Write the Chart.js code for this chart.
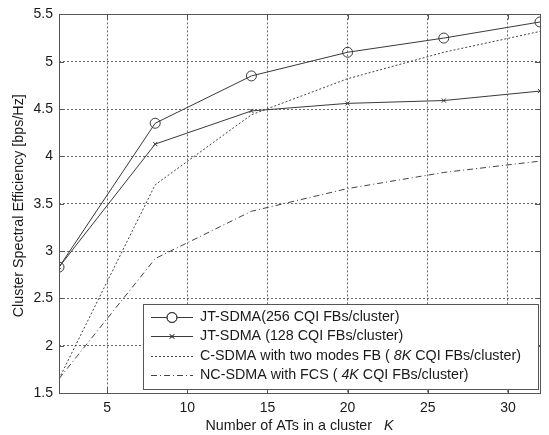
<!DOCTYPE html>
<html>
<head>
<meta charset="utf-8">
<script src="https://cdn.jsdelivr.net/npm/chart.js@4.4.1/dist/chart.umd.min.js"></script>
<style>
  html, body { margin: 0; padding: 0; background: #fff; }
  #wrap { width: 549px; height: 435px; }
</style>
</head>
<body>
<div id="wrap"><canvas id="chart" width="549" height="435"></canvas></div>
<script>
// ===== data =====
const kValues = [2, 8, 14, 20, 26, 32];
const jt256 = [2.83, 4.35, 4.85, 5.10, 5.25, 5.42];
const jt128 = [2.83, 4.13, 4.48, 4.56, 4.59, 4.69];
const cSdma = [1.65, 3.70, 4.44, 4.82, 5.10, 5.32];
const ncSdma = [1.65, 2.92, 3.42, 3.66, 3.83, 3.95];

const xTicks = [5, 10, 15, 20, 25, 30];
const yTicks = [1.5, 2, 2.5, 3, 3.5, 4, 4.5, 5, 5.5];

// legend text, split in [text, italic] parts
const legendLabels = [
  [["JT-SDMA(256 CQI FBs/cluster)", false]],
  [["JT-SDMA (128 CQI FBs/cluster)", false]],
  [["C-SDMA with two modes FB ( ", false], ["8K", true], [" CQI FBs/cluster)", false]],
  [["NC-SDMA with FCS ( ", false], ["4K", true], [" CQI FBs/cluster)", false]]
];
const xTitle = [["Number of ATs in a cluster", false], ["   ", false], ["K", true]];
const yTitle = "Cluster Spectral Efficiency [bps/Hz]";

const FONT = '"Liberation Sans", Arial, Helvetica, sans-serif';
const LINE = '#3a3a3a';
const TXT = 14.3;

function toPoints(ys) {
  return kValues.map((k, i) => ({ x: k, y: ys[i] }));
}

const datasets = [
  { data: toPoints(jt256), borderColor: LINE, borderWidth: 1, pointStyle: 'circle',
    pointRadius: 5, pointBorderColor: LINE, pointBackgroundColor: 'rgba(0,0,0,0)', pointBorderWidth: 1 },
  { data: toPoints(jt128), borderColor: LINE, borderWidth: 1, pointStyle: 'crossRot',
    pointRadius: 3, pointBorderColor: LINE, pointBorderWidth: 1 },
  { data: toPoints(cSdma), borderColor: '#444', borderWidth: 1, borderDash: [2, 2], pointRadius: 0 },
  { data: toPoints(ncSdma), borderColor: '#444', borderWidth: 1, borderDash: [6, 3, 1, 3], pointRadius: 0 }
];

function drawParts(ctx, parts, x, y, size) {
  parts.forEach(p => {
    ctx.font = (p[1] ? 'italic ' : '') + size + 'px ' + FONT;
    ctx.fillText(p[0], x, y);
    x += ctx.measureText(p[0]).width;
  });
}
function partsWidth(ctx, parts, size) {
  let w = 0;
  parts.forEach(p => {
    ctx.font = (p[1] ? 'italic ' : '') + size + 'px ' + FONT;
    w += ctx.measureText(p[0]).width;
  });
  return w;
}

// box, inner ticks, titles and legend in MATLAB style
const matlabFrame = {
  id: 'matlabFrame',
  afterDatasetsDraw(chart) {
    const ctx = chart.ctx;
    const a = chart.chartArea;
    const xs = chart.scales.x, ys = chart.scales.y;
    ctx.save();
    ctx.strokeStyle = '#555';
    ctx.lineWidth = 1;
    ctx.setLineDash([]);
    ctx.beginPath();
    xTicks.forEach(t => {
      const px = Math.round(xs.getPixelForValue(t)) + 0.5;
      ctx.moveTo(px, a.bottom); ctx.lineTo(px, a.bottom - 5);
      ctx.moveTo(px, a.top); ctx.lineTo(px, a.top + 5);
    });
    yTicks.forEach(t => {
      const py = Math.round(ys.getPixelForValue(t)) + 0.5;
      ctx.moveTo(a.left, py); ctx.lineTo(a.left + 5, py);
      ctx.moveTo(a.right, py); ctx.lineTo(a.right - 5, py);
    });
    ctx.stroke();
    ctx.strokeRect(Math.round(a.left) + 0.5, Math.round(a.top) + 0.5,
      Math.round(a.right - a.left), Math.round(a.bottom - a.top));

    // legend
    const lx = a.left + 84, ly = a.bottom - 89, lw = 395, lh = 85;
    ctx.fillStyle = '#fff';
    ctx.fillRect(lx, ly, lw, lh);
    ctx.strokeStyle = '#555';
    ctx.strokeRect(Math.round(lx) + 0.5, Math.round(ly) + 0.5, lw, lh);
    legendLabels.forEach((parts, i) => {
      const ry = ly + 13 + i * 19.3;
      const ds = datasets[i];
      ctx.strokeStyle = ds.borderColor;
      ctx.lineWidth = 1;
      ctx.setLineDash(ds.borderDash || []);
      ctx.beginPath();
      ctx.moveTo(lx + 8, Math.round(ry) + 0.5);
      ctx.lineTo(lx + 50, Math.round(ry) + 0.5);
      ctx.stroke();
      ctx.setLineDash([]);
      if (ds.pointRadius > 0) {
        Chart.helpers.drawPoint(ctx, {
          pointStyle: ds.pointStyle, radius: ds.pointRadius, borderWidth: 1, rotation: 0
        }, lx + 29, Math.round(ry) + 0.5);
        ctx.stroke();
      }
      ctx.fillStyle = '#1a1a1a';
      ctx.textBaseline = 'middle';
      ctx.textAlign = 'left';
      drawParts(ctx, parts, lx + 57, ry, TXT);
    });

    // axis titles
    ctx.fillStyle = '#1a1a1a';
    ctx.textBaseline = 'middle';
    ctx.textAlign = 'left';
    const w = partsWidth(ctx, xTitle, TXT);
    drawParts(ctx, xTitle, (a.left + a.right) / 2 - w / 2, 426, TXT);

    ctx.translate(19, (a.top + a.bottom) / 2 + 2);
    ctx.rotate(-Math.PI / 2);
    ctx.textAlign = 'center';
    ctx.font = TXT + 'px ' + FONT;
    ctx.fillText(yTitle, 0, 0);
    ctx.restore();
  }
};

new Chart(document.getElementById('chart'), {
  type: 'line',
  data: { datasets: datasets },
  options: {
    responsive: false,
    animation: false,
    layout: { padding: { top: 9, right: 9, left: 0, bottom: 0 } },
    plugins: { legend: { display: false }, tooltip: { enabled: false } },
    elements: { line: { tension: 0 } },
    scales: {
      x: {
        type: 'linear', min: 2, max: 32,
        afterBuildTicks: s => { s.ticks = xTicks.map(v => ({ value: v })); },
        afterFit: s => { s.height = 42; },
        grid: { color: '#666', lineWidth: 1, drawTicks: false },
        border: { display: false, dash: [2, 2] },
        ticks: { padding: 7, color: '#1a1a1a', font: { family: FONT, size: 14 }, maxRotation: 0,
                 callback: v => String(v) }
      },
      y: {
        min: 1.5, max: 5.5,
        afterBuildTicks: s => { s.ticks = yTicks.map(v => ({ value: v })); },
        afterFit: s => { s.width = 59; },
        grid: { color: '#666', lineWidth: 1, drawTicks: false },
        border: { display: false, dash: [2, 2] },
        ticks: { padding: 6, color: '#1a1a1a', font: { family: FONT, size: 14 },
                 callback: v => String(v) }
      }
    }
  },
  plugins: [matlabFrame]
});
</script>
</body>
</html>
